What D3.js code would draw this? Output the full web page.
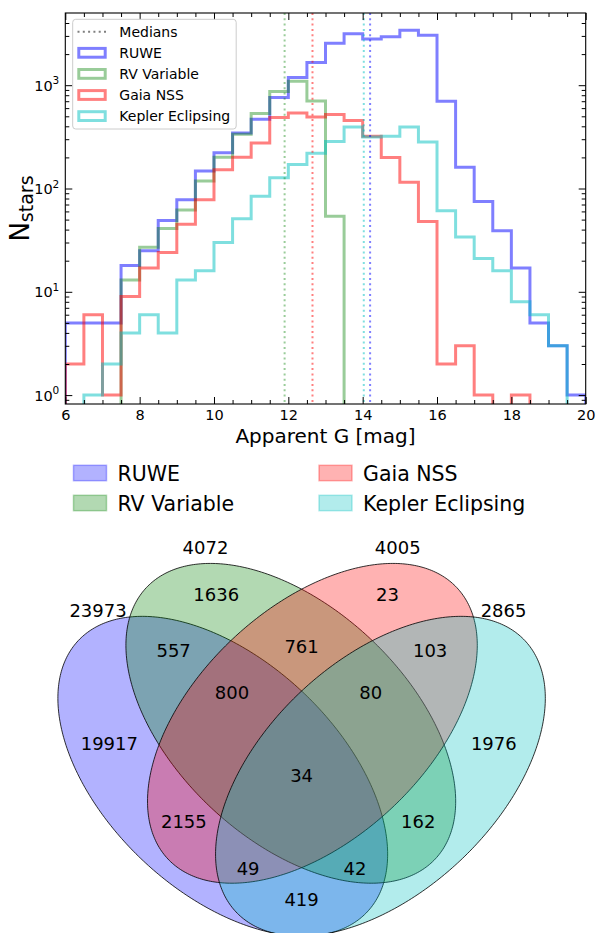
<!DOCTYPE html>
<html>
<head>
<meta charset="utf-8">
<script src="https://cdn.jsdelivr.net/npm/d3@7"></script>
<style>
  body { margin: 0; background: #fff; }
  text { font-family: "DejaVu Sans", sans-serif; fill: #000; }
</style>
</head>
<body>
<div id="vis"></div>
<script>
// ---- histogram data (apparent G, 0.5 mag bins) ----
const binEdges = [6, 6.5, 7, 7.5, 8, 8.5, 9, 9.5, 10, 10.5, 11, 11.5, 12, 12.5, 13,
  13.5, 14, 14.5, 15, 15.5, 16, 16.5, 17, 17.5, 18, 18.5, 19, 19.5, 20];
const ruweCounts = [5, 5, 5, 18, 25, 49, 78, 148, 222, 345, 467, 760, 1190, 1660, 2550,
  3150, 2800, 2950, 3400, 3050, 700, 161, 75, 39, 17, 5, 3, 1];
const rvCounts = [0, 0, 0, 13, 27, 41, 62, 118, 201, 335, 531, 870, 1090, 705, 54,
  0, 0, 0, 0, 0, 0, 0, 0, 0, 0, 0, 0, 0];
const nssCounts = [2, 6, 1, 9, 17, 24, 45, 78, 152, 201, 275, 486, 538, 492, 520,
  455, 320, 200, 115, 48, 2, 3, 1, 0, 1, 0, 0, 0];
const keplerCounts = [0, 1, 2, 4, 6, 4, 13, 16, 30, 51, 84, 127, 171, 220, 285,
  394, 315, 320, 394, 282, 61, 34, 21, 16, 8, 6, 3, 0];
const medians = [14.2, 11.9, 12.65, 14.03];

const seriesNames = ["RUWE", "RV Variable", "Gaia NSS", "Kepler Eclipsing"];
const seriesColors = ["#0000ff", "#008000", "#ff0000", "#00bfbf"];
const seriesCounts = [ruweCounts, rvCounts, nssCounts, keplerCounts];

const xMajor = [6, 8, 10, 12, 14, 16, 18, 20];
const yMajor = [1, 10, 100, 1000];

// ---- venn data ----
const setTotals = [23973, 4072, 4005, 2865];
const regionKeys = ["1000", "0100", "0010", "0001", "1100", "0110", "0011", "1110",
  "0111", "1111", "1010", "0101", "1011", "1101", "1001"];
const regionCounts = [19917, 1636, 23, 1976, 557, 761, 103, 800, 80, 34, 2155, 162, 49, 42, 419];

// venn layout, unit coordinates
const ellipses = [
  { cx: 0.354, cy: 0.394, a: 0.367, b: 0.215, angle: 136.8 },
  { cx: 0.480, cy: 0.492, a: 0.367, b: 0.215, angle: 136.8 },
  { cx: 0.520, cy: 0.492, a: 0.367, b: 0.215, angle: 43.2 },
  { cx: 0.646, cy: 0.394, a: 0.367, b: 0.215, angle: 43.2 }
];
const regionPos = {
  "1000": [0.144, 0.454], "0100": [0.342, 0.731], "0010": [0.659, 0.731], "0001": [0.856, 0.454],
  "1100": [0.263, 0.626], "0110": [0.5, 0.635], "0011": [0.738, 0.626], "1110": [0.371, 0.549],
  "0111": [0.628, 0.549], "1111": [0.5, 0.396], "1010": [0.282, 0.31], "0101": [0.716, 0.31],
  "1011": [0.401, 0.224], "1101": [0.599, 0.224], "1001": [0.5, 0.166]
};
const totalPos = [[0.123, 0.701], [0.322, 0.818], [0.678, 0.818], [0.874, 0.701]];

const W = 597, H = 933;
const svg = d3.select("#vis").append("svg").attr("width", W).attr("height", H);
svg.append("rect").attr("width", W).attr("height", H).attr("fill", "#fff");

// ================= histogram =================
const L = 65.3, R = 585.7, T = 13, B = 404;
const x = d3.scaleLinear().domain([6, 20]).range([L, R]);
const y = d3.scaleLog().domain([0.82, 5000]).range([B, T]);

svg.append("clipPath").attr("id", "plotclip")
  .append("rect").attr("x", L).attr("y", T).attr("width", R - L).attr("height", B - T);
const plot = svg.append("g").attr("clip-path", "url(#plotclip)");

const floorVal = 1e-3;
function stepPoints(counts) {
  const pts = [[binEdges[0], floorVal]];
  counts.forEach((c, i) => {
    const v = c > 0 ? c : floorVal;
    pts.push([binEdges[i], v], [binEdges[i + 1], v]);
  });
  pts.push([binEdges[binEdges.length - 1], floorVal]);
  return pts;
}
const line = d3.line().x(d => x(d[0])).y(d => y(d[1]));

seriesCounts.forEach((counts, i) => {
  plot.append("path")
    .attr("d", line(stepPoints(counts)))
    .attr("fill", "none")
    .attr("stroke", seriesColors[i])
    .attr("stroke-opacity", i === 1 ? 0.4 : 0.5)
    .attr("stroke-width", 3);
});

medians.forEach((m, i) => {
  plot.append("line")
    .attr("x1", x(m)).attr("x2", x(m)).attr("y1", T).attr("y2", B)
    .attr("stroke", seriesColors[i])
    .attr("stroke-opacity", i === 1 ? 0.4 : 0.5)
    .attr("stroke-width", 2)
    .attr("stroke-dasharray", "2,3.3");
});

// axes (ticks pointing in, on all sides)
const xMinor = d3.range(6, 20.01, 0.5).filter(v => !xMajor.includes(v));
const yMinor = [];
[-1, 0, 1, 2, 3].forEach(p => d3.range(2, 10).forEach(k => {
  const v = k * Math.pow(10, p);
  if (v > 0.82 && v < 5000) yMinor.push(v);
}));

function styleAxis(g) {
  g.select(".domain").remove();
  g.selectAll(".tick line").attr("stroke", "#000").attr("stroke-width", 1);
}
svg.append("g").attr("transform", `translate(0,${B})`)
  .call(d3.axisBottom(x).tickValues(xMajor).tickSize(-7).tickPadding(5.5).tickFormat(d3.format("d")))
  .call(styleAxis)
  .call(g => g.selectAll("text").attr("font-size", 14.5).attr("font-family", "DejaVu Sans"));
svg.append("g").attr("transform", `translate(0,${B})`)
  .call(d3.axisBottom(x).tickValues(xMinor).tickSize(-4).tickFormat("")).call(styleAxis);
svg.append("g").attr("transform", `translate(0,${T})`)
  .call(d3.axisTop(x).tickValues(xMajor).tickSize(-7).tickFormat("")).call(styleAxis);
svg.append("g").attr("transform", `translate(0,${T})`)
  .call(d3.axisTop(x).tickValues(xMinor).tickSize(-4).tickFormat("")).call(styleAxis);
svg.append("g").attr("transform", `translate(${L},0)`)
  .call(d3.axisLeft(y).tickValues(yMajor).tickSize(-7).tickFormat("")).call(styleAxis);
svg.append("g").attr("transform", `translate(${L},0)`)
  .call(d3.axisLeft(y).tickValues(yMinor).tickSize(-4).tickFormat("")).call(styleAxis);
svg.append("g").attr("transform", `translate(${R},0)`)
  .call(d3.axisRight(y).tickValues(yMajor).tickSize(-7).tickFormat("")).call(styleAxis);
svg.append("g").attr("transform", `translate(${R},0)`)
  .call(d3.axisRight(y).tickValues(yMinor).tickSize(-4).tickFormat("")).call(styleAxis);

// y tick labels 10^k
yMajor.forEach(v => {
  const t = svg.append("text")
    .attr("x", L - 6).attr("y", y(v) + 5.5)
    .attr("text-anchor", "end").attr("font-size", 14.5);
  t.append("tspan").text("10");
  t.append("tspan").attr("font-size", 10.5).attr("dy", -6.5).text(Math.round(Math.log10(v)));
});

svg.append("rect").attr("x", L).attr("y", T).attr("width", R - L).attr("height", B - T)
  .attr("fill", "none").attr("stroke", "#000").attr("stroke-width", 1.1);

// axis labels
svg.append("text").attr("x", (L + R) / 2).attr("y", 443)
  .attr("text-anchor", "middle").attr("font-size", 20).text("Apparent G [mag]");
const yl = svg.append("text")
  .attr("transform", `translate(29,${(T + B) / 2}) rotate(-90)`)
  .attr("text-anchor", "middle").attr("font-size", 26);
yl.append("tspan").text("N");
yl.append("tspan").attr("font-size", 19).attr("dy", 4).text("stars");

// histogram legend
const lg = svg.append("g");
lg.append("rect").attr("x", 72.7).attr("y", 19.3).attr("width", 163.5).attr("height", 109.7)
  .attr("rx", 3).attr("fill", "#fff").attr("fill-opacity", 0.8)
  .attr("stroke", "#cccccc").attr("stroke-width", 1);
const legRows = ["Medians"].concat(seriesNames);
legRows.forEach((name, i) => {
  const cy = 31.7 + i * 21.1;
  if (i === 0) {
    lg.append("line").attr("x1", 77.5).attr("x2", 106.5).attr("y1", cy).attr("y2", cy)
      .attr("stroke", "#000").attr("stroke-opacity", 0.5).attr("stroke-width", 2)
      .attr("stroke-dasharray", "2,3.3");
  } else {
    lg.append("rect").attr("x", 78.8).attr("y", cy - 4.4).attr("width", 26.4).attr("height", 8.8)
      .attr("fill", "none").attr("stroke", seriesColors[i - 1])
      .attr("stroke-opacity", i === 2 ? 0.4 : 0.5).attr("stroke-width", 3);
  }
  lg.append("text").attr("x", 119.3).attr("y", cy + 5).attr("font-size", 14).text(name);
});

// ================= venn legend =================
const vl = svg.append("g");
seriesNames.forEach((name, i) => {
  const col = Math.floor(i / 2), row = i % 2;
  const px = col === 0 ? 73.5 : 319;
  const cy = 473 + row * 30;
  vl.append("rect").attr("x", px).attr("y", cy - 7.7).attr("width", 33).attr("height", 15.4)
    .attr("fill", seriesColors[i]).attr("fill-opacity", 0.3)
    .attr("stroke", seriesColors[i]).attr("stroke-opacity", 0.3).attr("stroke-width", 1.5);
  vl.append("text").attr("x", px + 44).attr("y", cy + 7.5).attr("font-size", 20.5).text(name);
});

// ================= venn diagram =================
const vx = d3.scaleLinear().domain([0, 1]).range([31.6, 571.6]);
const vy = d3.scaleLinear().domain([0, 1]).range([989, 449]);
const thetas = d3.range(0, 2 * Math.PI, Math.PI / 180);
const ellLine = d3.line().x(d => vx(d[0])).y(d => vy(d[1])).curve(d3.curveLinearClosed);

const vg = svg.append("g");
ellipses.forEach((e, i) => {
  const r = e.angle * Math.PI / 180;
  const pts = thetas.map(t => [
    e.cx + e.a * Math.cos(t) * Math.cos(r) - e.b * Math.sin(t) * Math.sin(r),
    e.cy + e.a * Math.cos(t) * Math.sin(r) + e.b * Math.sin(t) * Math.cos(r)
  ]);
  vg.append("path").attr("d", ellLine(pts))
    .attr("fill", seriesColors[i]).attr("fill-opacity", 0.3)
    .attr("stroke", "#000").attr("stroke-opacity", 0.8).attr("stroke-width", 1);
});

regionKeys.forEach((k, i) => {
  const p = regionPos[k];
  vg.append("text").attr("x", vx(p[0])).attr("y", vy(p[1]))
    .attr("text-anchor", "middle").attr("dominant-baseline", "central")
    .attr("font-size", 18).text(regionCounts[i]);
});
setTotals.forEach((v, i) => {
  const p = totalPos[i];
  vg.append("text").attr("x", vx(p[0])).attr("y", vy(p[1]))
    .attr("text-anchor", "middle").attr("dominant-baseline", "central")
    .attr("font-size", 18).text(v);
});
</script>
</body>
</html>
